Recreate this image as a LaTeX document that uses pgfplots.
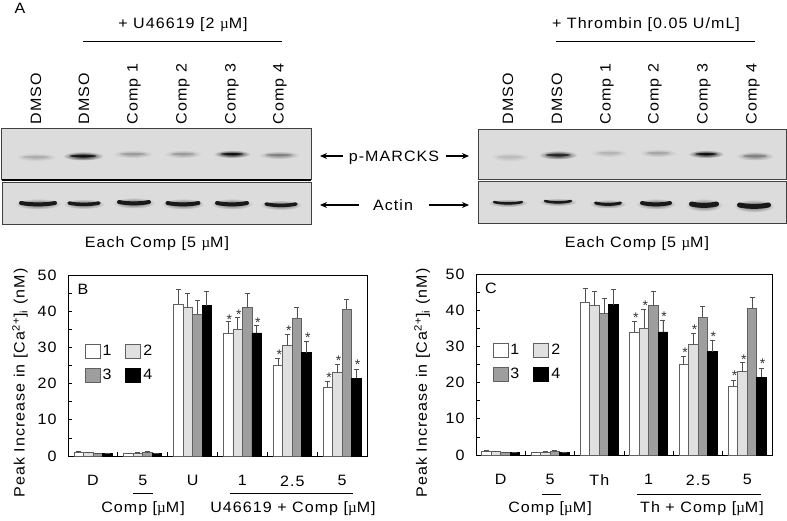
\documentclass[border=0pt]{standalone}
\usepackage{fontspec}
\setmainfont{Liberation Sans}
\newfontfamily\mufont{Liberation Serif}
\usepackage{pgfplots}
\usepackage{pgfplotstable}
\pgfplotsset{compat=1.18}
\usetikzlibrary{arrows.meta}
\newcommand\um{{\mufont µ}M}
\newcommand\txt{\fontsize{15}{17}\selectfont\addfontfeature{FakeStretch=1.07,LetterSpace=7}}
\definecolor{blotbg}{HTML}{DCDCDC}
\definecolor{edgeg}{HTML}{606060}
\definecolor{errg}{HTML}{505050}
% x y width height darkness(0-100)
\newcommand\band[5]{%
  \shade[inner color=black!#5!blotbg, outer color=blotbg] (#1,#2) ellipse ({#3/2+4} and {#4+2});
  \fill[black!#5!blotbg, opacity=.8] (#1,#2) ellipse ({#3/2-3} and {#4/2});
}
\newcommand\actin[4]{%
  \shade[inner color=black!55!blotbg, outer color=blotbg] (#1,#2) ellipse ({#3/2+4} and {#4+1.5});
  \draw[black!90, line width=#4pt, line cap=round] ({#1-#3/2+2},{#2-1}) .. controls ({#1-#3/5},{#2+.8}) and ({#1+#3/5},{#2+.8}) .. ({#1+#3/2-2},{#2-1});
}
\pgfplotstableread{
x v1 v2 v3 v4 e1 e2 e3 e4
0.5 1.0 0.9 0.7 0.7 0.15 0.15 0.15 0.15
1.5 0.7 0.8 1.0 0.7 0.15 0.15 0.15 0.15
2.5 42.0 41.0 39.2 41.5 4.0 4.0 3.8 4.0
3.5 34.0 35.0 41.0 34.0 3.2 3.2 4.0 2.2
4.5 25.0 30.5 38.0 28.5 2.0 3.0 3.0 3.1
5.5 19.0 23.0 40.5 21.5 1.5 2.3 2.8 2.3
}\tabB
\pgfplotstableread{
x y
3.214 38.3
4.214 28.8
5.214 22.4
3.405 39.6
4.405 35.3
5.405 27.0
3.786 37.6
4.786 33.4
5.786 26.0
}\starB
\pgfplotstableread{
x v1 v2 v3 v4 e1 e2 e3 e4
0.5 1.0 0.9 0.7 0.7 0.15 0.15 0.15 0.15
1.5 0.7 0.8 1.0 0.7 0.15 0.15 0.15 0.15
2.5 42.2 41.2 39.0 41.5 3.8 4.0 4.2 4.3
3.5 34.0 35.0 41.2 34.0 3.0 5.3 4.0 3.3
4.5 25.0 30.5 38.0 28.5 2.2 3.1 3.0 3.3
5.5 19.0 23.0 40.5 21.5 1.7 2.5 3.0 2.4
}\tabC
\pgfplotstableread{
x y
3.214 38.6
4.214 28.9
5.214 22.5
3.405 41.9
4.405 35.2
5.405 27.1
3.786 38.9
4.786 33.4
5.786 26.0
}\starC
\pgfplotsset{
  panel/.style={
    ybar=0pt, bar width=9.5pt,
    scale only axis, axis line style={black,line width=.9pt},
    height=181pt, xmin=0, xmax=6, ymin=0, ymax=50,
    xtick={0.5,1.5,2.5,3.5,4.5,5.5},
    minor xtick={1,2,3,4,5},
    major x tick style={draw=none},
    minor x tick style={black,line width=.8pt},
    minor tick length=4pt, major tick length=4pt,
    ytick={0,10,20,30,40,50}, minor ytick={5,15,25,35,45},
    y tick style={black,line width=.8pt},
    tick align=inside, xtick pos=bottom, ytick pos=left,
    /pgf/number format/assume math mode=true,
    tick label style={font=\txt},
    xticklabel style={yshift=-16pt},
    yticklabel style={xshift=-8pt},
    ylabel={Peak Increase in [Ca\textsuperscript{2+}]\textsubscript{i} (nM)},
    label style={font=\txt},
    legend columns=2,
    legend style={draw=none, fill=none, font=\txt, /tikz/every even column/.append style={column sep=12pt}, row sep=8pt, anchor=north west},
    legend cell align=left,
    legend image code/.code={\draw[##1,line width=.9pt] (0pt,-7pt) rectangle (15pt,7pt);},
    error bars/y dir=plus, error bars/y explicit,
    error bars/error bar style={draw=errg,line width=.8pt},
    error bars/error mark options={errg,rotate=90,mark size=2.5pt,line width=.7pt},
  },
  s1/.style={draw=edgeg, fill=white, line width=.8pt},
  s2/.style={draw=edgeg, fill=black!12, line width=.8pt},
  s3/.style={draw=edgeg, fill=black!38, line width=.8pt},
  s4/.style={draw=black, fill=black, line width=.8pt},
  starp/.style={sharp plot, draw=none, mark=none, forget plot,
    nodes near coords={*}, every node near coord/.append style={anchor=center, inner sep=0pt, xshift=-3.5pt, yshift=-2.5pt, text=black!80, font=\fontsize{14}{14}\selectfont}},
}
\begin{document}
\begin{tikzpicture}[x=1pt,y=1pt]
\useasboundingbox (0,0) rectangle (787,520);
\begin{scope}[x=1pt,y=-1pt,shift={(0,520pt)}]
% blots
\fill[blotbg,draw=black!75,line width=.7pt] (1.5,128) rectangle (311,179);
\fill[blotbg,draw=black!75,line width=.7pt] (2.5,182) rectangle (311,224);
\draw[black,line width=1.4pt] (2,180) -- (311,180);
\fill[blotbg,draw=black!75,line width=.7pt] (478,129) rectangle (786,179);
\fill[blotbg,draw=black!75,line width=.7pt] (478.5,181) rectangle (786,223);
\band{36}{157}{34}{2}{22}
\band{83}{156}{33}{2.5}{95}
\band{133}{154}{32}{2}{30}
\band{183}{154}{30}{2}{30}
\band{232}{154}{29}{2}{95}
\band{279}{155}{33}{2}{42}
\band{510}{157}{32}{2.5}{15}
\band{558}{155}{31}{2.5}{85}
\band{609}{153}{30}{2}{18}
\band{658}{153}{30}{2}{25}
\band{706}{154}{28}{2}{95}
\band{755}{156}{30}{2.5}{42}
\actin{38}{204}{38}{4}
\actin{84}{204}{34}{3.5}
\actin{134}{203}{34}{4}
\actin{183}{204}{35}{4}
\actin{232}{204}{34}{4}
\actin{281}{205}{34}{3.5}
\actin{508}{203}{32}{2.5}
\actin{558}{202}{30}{2.5}
\actin{608}{204}{29}{3}
\actin{656}{204}{32}{4}
\actin{704}{205}{29}{5}
\actin{754}{206}{33}{5}
% heads
\node[font=\txt] at (20,8) {A};
\node[font=\txt] at (183,25) {+ U46619 [2 \um]};
\node[font=\txt] at (646,25) {+ Thrombin [0.05 U/mL]};
\draw[black,line width=.9pt] (83,41) -- (282,41);
\draw[black,line width=.9pt] (556,41) -- (755,41);
\foreach \x/\l in {36/DMSO,84/DMSO,134/Comp 1,183/Comp 2,232/Comp 3,280/Comp 4,508/DMSO,557/DMSO,607/Comp 1,655/Comp 2,704/Comp 3,753/Comp 4}
  \node[font=\txt,rotate=90,anchor=west,inner sep=0pt] at (\x,124.5) {\l};
\node[font=\txt] at (394,158) {p-MARCKS};
\node[font=\txt] at (393,205) {Actin};
\draw[-{Stealth[length=7pt,width=6pt]},black,line width=1.1pt] (343,156) -- (320,156);
\draw[-{Stealth[length=7pt,width=6pt]},black,line width=1.1pt] (446,156) -- (469,156);
\draw[-{Stealth[length=7pt,width=6pt]},black,line width=1.1pt] (359,205) -- (320,205);
\draw[-{Stealth[length=7pt,width=6pt]},black,line width=1.1pt] (429,205) -- (469,205);
\node[font=\txt] at (157,244) {Each Comp [5 \um]};
\node[font=\txt] at (637,244) {Each Comp [5 \um]};
% under-axis labels
\draw[black,line width=.9pt] (133,493) -- (153,493);
\draw[black,line width=.9pt] (230,493) -- (353,493);
\draw[black,line width=.9pt] (542,494) -- (561,494);
\draw[black,line width=.9pt] (637,494) -- (761,494);
\node[font=\txt] at (143,509) {Comp [\um]};
\node[font=\txt] at (293,509) {U46619 + Comp [\um]};
\node[font=\txt] at (550,509) {Comp [\um]};
\node[font=\txt] at (702,509) {Th + Comp [\um]};
\end{scope}
% panel B
\begin{axis}[panel, at={(68pt,64pt)}, anchor=south west, width=299pt,
  xticklabels={D,5,U,1,2.5,5},
  ylabel style={at={(axis description cs:-0.1605,0.403)}, anchor=center},
  legend style={at={(axis cs:0.27,31.7)}}]
\addplot[s1] table[x=x,y=v1,y error=e1]{\tabB};
\addplot[s2] table[x=x,y=v2,y error=e2]{\tabB};
\addplot[s3] table[x=x,y=v3,y error=e3]{\tabB};
\addplot[s4] table[x=x,y=v4,y error=e4]{\tabB};
\addplot[starp] table[x=x,y=y]{\starB};
\legend{1,2,3,4}
\node[font=\txt,anchor=center] at (axis cs:0.3,46) {B};
\end{axis}
% panel C
\begin{axis}[panel, at={(476pt,65pt)}, anchor=south west, width=296pt,
  xticklabels={D,5,Th,1,2.5,5},
  ylabel style={at={(axis description cs:-0.182,0.398)}, anchor=center},
  legend style={at={(axis cs:0.27,31.7)}}]
\addplot[s1] table[x=x,y=v1,y error=e1]{\tabC};
\addplot[s2] table[x=x,y=v2,y error=e2]{\tabC};
\addplot[s3] table[x=x,y=v3,y error=e3]{\tabC};
\addplot[s4] table[x=x,y=v4,y error=e4]{\tabC};
\addplot[starp] table[x=x,y=y]{\starC};
\legend{1,2,3,4}
\node[font=\txt,anchor=center] at (axis cs:0.3,46) {C};
\end{axis}
\end{tikzpicture}
\end{document}
